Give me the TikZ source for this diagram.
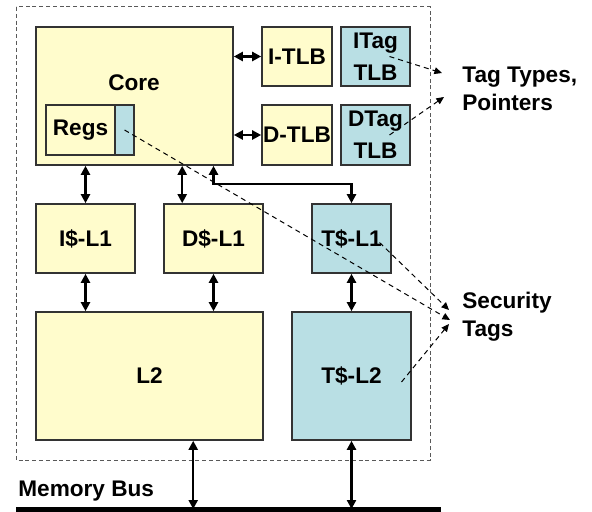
\documentclass[tikz,border=0pt]{standalone}
\usepackage{fontspec}
\setmainfont{Liberation Sans}
\usetikzlibrary{arrows.meta}
\definecolor{tagblue}{RGB}{185,223,228}

\begin{document}
\begin{tikzpicture}[x=0.5pt,y=-0.5pt,
    box/.style={draw=black!80,line width=0.8pt,inner sep=0pt,align=center,
      font=\bfseries\fontsize{11.3}{16}\selectfont},
    ybox/.style={box,fill=yellow!20},
    tbox/.style={box,fill=tagblue},
    link/.style={line width=1.1pt,{Triangle[length=4.5pt,width=4.5pt]}-{Triangle[length=4.5pt,width=4.5pt]}},
    tagline/.style={dashed,dash pattern=on 2.5pt off 2pt,line width=0.5pt,-{Triangle[length=3.8pt,width=3.4pt]}},
    lbl/.style={font=\bfseries\fontsize{11.3}{14}\selectfont,align=left,inner sep=0pt}]
  \useasboundingbox (0,0) rectangle (592,512);
  \draw[black!65,line width=0.5pt,dash pattern=on 2pt off 1.4pt] (16,7) rectangle (430,460);
  \node[ybox,minimum width=98.5pt,minimum height=69pt] (core) at (134.5,96) {};
  \node[lbl,anchor=base] (corelbl) at (134,91) {Core};
  \node[ybox,minimum width=34.5pt,minimum height=25pt] (regs) at (80.5,130) {Regs};
  \node[tbox,minimum width=9.5pt,minimum height=25pt] (regtag) at (124.5,130) {};
  \node[ybox,minimum width=35pt,minimum height=29.5pt] (itlb) at (297,56.5) {I-TLB};
  \node[tbox,minimum width=34.5pt,minimum height=29.5pt] (itag) at (375.5,56.5) {ITag\\TLB};
  \node[ybox,minimum width=35pt,minimum height=30pt] (dtlb) at (297,135) {D-TLB};
  \node[tbox,minimum width=34.5pt,minimum height=30pt] (dtag) at (375.5,135) {DTag\\TLB};
  \node[ybox,minimum width=49.5pt,minimum height=34.5pt] (il1) at (85.5,238.5) {I\$-L1};
  \node[ybox,minimum width=49.5pt,minimum height=34.5pt] (dl1) at (213.5,238.5) {D\$-L1};
  \node[tbox,minimum width=39.5pt,minimum height=34.5pt] (tl1) at (351.5,238.5) {T\$-L1};
  \node[ybox,minimum width=113.5pt,minimum height=64pt] (l2) at (149.5,376) {L2};
  \node[tbox,minimum width=59.5pt,minimum height=64pt] (tl2) at (351.5,376) {T\$-L2};
  \node[lbl,anchor=west] (tagtypes) at (462,89) {Tag Types,\\Pointers};
  \node[lbl,anchor=west] (sectags) at (462,317) {Security\\Tags};
  \node[lbl,anchor=base west] (buslbl) at (18,496) {Memory Bus};
  \coordinate (busL) at (16,509);
  \coordinate (busR) at (441,509);
  \coordinate (dl1in) at ([xshift=9.5pt]dl1.north west);
  \coordinate (l2bus) at ([xshift=79pt]l2.south west);
  \draw[link] (core.east |- itlb.west) -- (itlb.west);
  \draw[link] (core.east |- dtlb.west) -- (dtlb.west);
  \draw[link] (il1.north) -- (il1.north |- core.south);
  \draw[link] (dl1in) -- (dl1in |- core.south);
  \draw[link] (dl1.north |- core.south) -- ++(0,18) -| (tl1.north);
  \draw[link] (il1.south) -- (il1.south |- l2.north);
  \draw[link] (dl1.south) -- (dl1.south |- l2.north);
  \draw[link] (tl1.south) -- (tl2.north);
  \draw[link] (l2bus) -- (l2bus |- busL);
  \draw[link] (tl2.south) -- (tl2.south |- busL);
  \draw[line width=2.5pt] (busL) -- (busR);
  \coordinate (tt1) at (442,73);
  \coordinate (tt2) at (444,97);
  \coordinate (st1) at (449,310);
  \coordinate (st2) at (450,320);
  \coordinate (st3) at (449,324);
  \draw[tagline] ([xshift=7pt]itag.center) -- (tt1);
  \draw[tagline] ([xshift=7pt]dtag.center) -- (tt2);
  \draw[tagline] (regtag.center) -- (st2);
  \draw[tagline] ([xshift=14pt,yshift=-2pt]tl1.center) -- (st1);
  \draw[tagline] ([xshift=25pt,yshift=-3pt]tl2.center) -- (st3);
\end{tikzpicture}
\end{document}
